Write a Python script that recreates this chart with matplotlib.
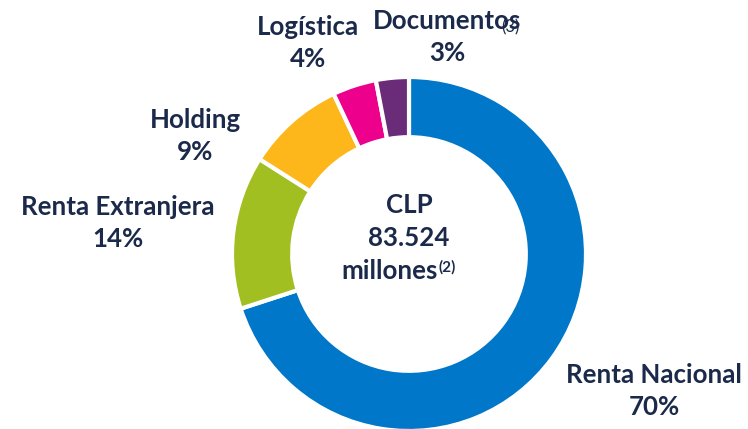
import matplotlib
matplotlib.use("Agg")
import matplotlib.pyplot as plt

# datos de la torta
segmentos = ["Renta Nacional", "Renta Extranjera", "Holding", "Logística", "Documentos"]
porcentajes = [70, 14, 9, 4, 3]
colores = ["#0077C8", "#A2BF21", "#FDB71A", "#EC008C", "#6A2C79"]
etiquetas = ["70%", "14%", "9%", "4%", "3%"]

total_clp = "83.524"

texto = "#1B2A4A"
plt.rcParams['font.family'] = ['Lato', 'DejaVu Sans']

W, H = 748, 429
fig = plt.figure(figsize=(W / 100, H / 100), dpi=100)
ax = fig.add_axes([0, 0, 1, 1])

cx, cy = 409, H - 254
radio = 177
ax.pie(porcentajes, colors=colores, startangle=90, counterclock=False,
       radius=radio, center=(cx, cy), frame=True,
       wedgeprops=dict(width=radio * 0.34, edgecolor='white', linewidth=3))
ax.set_xlim(0, W)
ax.set_ylim(0, H)
ax.axis('off')

# posiciones de las etiquetas (px desde arriba)
pos = {
    "Renta Nacional": (654, 375),
    "Renta Extranjera": (118, 207),
    "Holding": (195, 120),
    "Logística": (308, 27),
    "Documentos": (447, 21),
}
fs = 18.6
for nombre, pct in zip(segmentos, etiquetas):
    x, y = pos[nombre]
    ax.text(x, H - y, nombre, ha='center', va='center', fontsize=fs,
            fontweight='bold', color=texto)
    ax.text(x, H - y - 32, pct, ha='center', va='center', fontsize=fs,
            fontweight='bold', color=texto)

# nota (3) de Documentos (en el original queda encima de la "s")
ax.text(501, H - 27, "(3)", ha='left', va='center', fontsize=12,
        color=texto)

# texto central
ax.text(cx, H - 205, "CLP", ha='center', va='center', fontsize=fs,
        fontweight='bold', color=texto)
ax.text(cx, H - 238, total_clp, ha='center', va='center', fontsize=fs,
        fontweight='bold', color=texto)
ax.text(390, H - 271, "millones", ha='center', va='center', fontsize=fs,
        fontweight='bold', color=texto)
ax.text(439, H - 267, "(2)", ha='left', va='center', fontsize=11,
        fontweight='bold', color=texto)

fig.savefig("out.png", dpi=100)
